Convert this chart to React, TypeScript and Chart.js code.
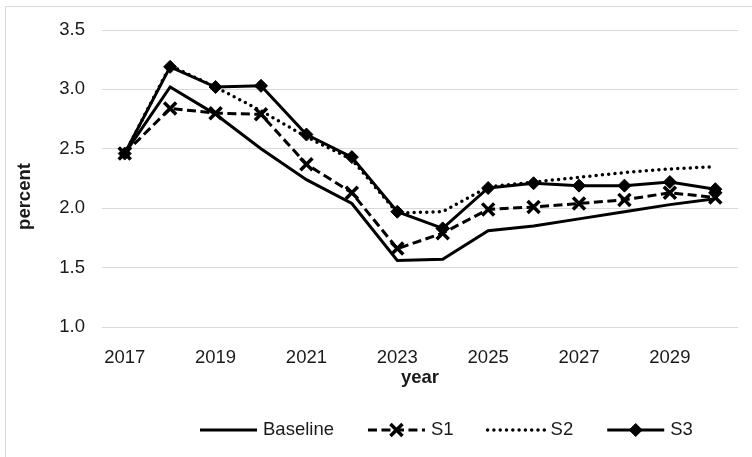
import React, { useEffect, useRef } from "react";
import { Chart, registerables } from "chart.js";

Chart.register(...registerables);

const years = ["2017", "2018", "2019", "2020", "2021", "2022", "2023", "2024", "2025", "2026", "2027", "2028", "2029", "2030"];
const baseline = [2.46, 3.02, 2.79, 2.5, 2.24, 2.04, 1.56, 1.57, 1.81, 1.85, 1.91, 1.97, 2.03, 2.08];
const s1 = [2.46, 2.84, 2.8, 2.79, 2.37, 2.13, 1.66, 1.79, 1.99, 2.01, 2.04, 2.07, 2.13, 2.09];
const s2 = [2.46, 3.2, 3.02, 2.82, 2.6, 2.41, 1.96, 1.97, 2.18, 2.22, 2.26, 2.3, 2.33, 2.35];
const s3 = [2.46, 3.19, 3.02, 3.03, 2.62, 2.43, 1.97, 1.83, 2.17, 2.21, 2.19, 2.19, 2.22, 2.16];
const seriesNames = ["Baseline", "S1", "S2", "S3"];
const yMin = 1.0;
const yMax = 3.5;
const yStep = 0.5;
const xAxisTitle = "year";
const yAxisTitle = "percent";

const FONT = "'Liberation Sans', Arial, Helvetica, sans-serif";
const TEXT = "#1a1a1a";
const FS = 18.5;

function drawMarker(ctx: CanvasRenderingContext2D, ds: any, x: number, y: number) {
  ctx.save();
  ctx.setLineDash([]);
  ctx.strokeStyle = "#000";
  ctx.fillStyle = "#000";
  const style = ds.pointStyle;
  if (style === "crossRot") {
    const r = ds.pointRadius * Math.SQRT1_2;
    ctx.lineWidth = ds.pointBorderWidth;
    ctx.beginPath();
    ctx.moveTo(x - r, y - r);
    ctx.lineTo(x + r, y + r);
    ctx.moveTo(x + r, y - r);
    ctx.lineTo(x - r, y + r);
    ctx.stroke();
  } else if (style === "rectRot") {
    const r = ds.pointRadius;
    ctx.lineWidth = ds.pointBorderWidth;
    ctx.beginPath();
    ctx.moveTo(x, y - r);
    ctx.lineTo(x + r, y);
    ctx.lineTo(x, y + r);
    ctx.lineTo(x - r, y);
    ctx.closePath();
    ctx.fill();
    ctx.stroke();
  }
  ctx.restore();
}

const decorPlugin = {
  id: "decor",
  afterDraw(chart: any) {
    const ctx: CanvasRenderingContext2D = chart.ctx;
    ctx.save();
    // outer frame
    ctx.strokeStyle = "#d9d9d9";
    ctx.lineWidth = 1;
    ctx.strokeRect(5.5, 6.5, 900, 600);

    // y axis title
    ctx.save();
    ctx.translate(25, 196.5);
    ctx.rotate(-Math.PI / 2);
    ctx.font = `bold ${FS}px ${FONT}`;
    ctx.fillStyle = TEXT;
    ctx.textAlign = "center";
    ctx.textBaseline = "middle";
    ctx.fillText(yAxisTitle, 0, 0);
    ctx.restore();

    // legend
    const ly = 430;
    const symW = 57;
    const symGap = 6;
    const itemGap = 34;
    let x = 200;
    ctx.font = `${FS}px ${FONT}`;
    ctx.textBaseline = "middle";
    ctx.textAlign = "left";
    chart.data.datasets.forEach((ds: any) => {
      ctx.save();
      ctx.strokeStyle = "#000";
      ctx.lineWidth = ds.borderWidth;
      ctx.lineCap = ds.borderCapStyle || "butt";
      ctx.setLineDash(ds.borderDash || []);
      ctx.beginPath();
      ctx.moveTo(x, ly);
      ctx.lineTo(x + symW, ly);
      ctx.stroke();
      ctx.restore();
      if (ds.pointRadius > 0) drawMarker(ctx, ds, x + symW / 2, ly);
      const tx = x + symW + symGap;
      ctx.fillStyle = TEXT;
      ctx.fillText(ds.label, tx, ly);
      x = tx + ctx.measureText(ds.label).width + itemGap;
    });
    ctx.restore();
  },
};

export default function App() {
  const ref = useRef<HTMLCanvasElement | null>(null);
  useEffect(() => {
    if (!ref.current) return;
    const chart = new Chart(ref.current, {
      type: "line",
      data: {
        labels: years,
        datasets: [
          {
            label: seriesNames[0],
            data: baseline,
            borderColor: "#000",
            backgroundColor: "#000",
            borderWidth: 3,
            pointRadius: 0,
            tension: 0,
          },
          {
            label: seriesNames[1],
            data: s1,
            borderColor: "#000",
            backgroundColor: "#000",
            borderWidth: 3,
            borderDash: [9, 4.5],
            pointStyle: "crossRot",
            pointRadius: 8.5,
            pointBorderWidth: 3.5,
            pointBorderColor: "#000",
            pointBackgroundColor: "#000",
            tension: 0,
          },
          {
            label: seriesNames[2],
            data: s2,
            borderColor: "#000",
            backgroundColor: "#000",
            borderWidth: 3.5,
            borderDash: [0, 6.3],
            borderCapStyle: "round",
            pointRadius: 0,
            tension: 0,
          },
          {
            label: seriesNames[3],
            data: s3,
            borderColor: "#000",
            backgroundColor: "#000",
            borderWidth: 3,
            pointStyle: "rectRot",
            pointRadius: 6.5,
            pointBorderWidth: 1,
            pointBorderColor: "#000",
            pointBackgroundColor: "#000",
            tension: 0,
          },
        ] as any,
      },
      options: {
        responsive: false,
        animation: false,
        devicePixelRatio: 1,
        layout: { padding: { top: 30, right: 14, bottom: 0, left: 0 } },
        plugins: {
          legend: { display: false },
          tooltip: { enabled: false },
        },
        scales: {
          x: {
            type: "category",
            offset: true,
            grid: { display: false },
            border: { display: false },
            ticks: {
              autoSkip: false,
              maxRotation: 0,
              padding: 12,
              color: TEXT,
              font: { family: FONT, size: FS },
              callback: (_v: any, i: number) => (i % 2 === 0 ? years[i] : ""),
            },
            title: {
              display: true,
              text: xAxisTitle,
              color: TEXT,
              font: { family: FONT, size: FS, weight: "bold" },
              padding: { top: 0, bottom: 68 },
            },
            afterFit: (scale: any) => {
              scale.height = 130;
            },
          },
          y: {
            min: yMin,
            max: yMax,
            grid: { color: "#d9d9d9", lineWidth: 1, drawTicks: false },
            border: { display: false },
            ticks: {
              stepSize: yStep,
              padding: 17,
              color: TEXT,
              font: { family: FONT, size: FS },
              callback: (v: any) => Number(v).toFixed(1),
            },
            afterFit: (scale: any) => {
              scale.width = 102;
            },
          },
        },
      } as any,
      plugins: [decorPlugin],
    });
    return () => chart.destroy();
  }, []);
  return (
    <div style={{ position: "absolute", left: 0, top: 0, width: 752, height: 457, background: "#fff" }}>
      <canvas ref={ref} width={752} height={457} />
    </div>
  );
}
